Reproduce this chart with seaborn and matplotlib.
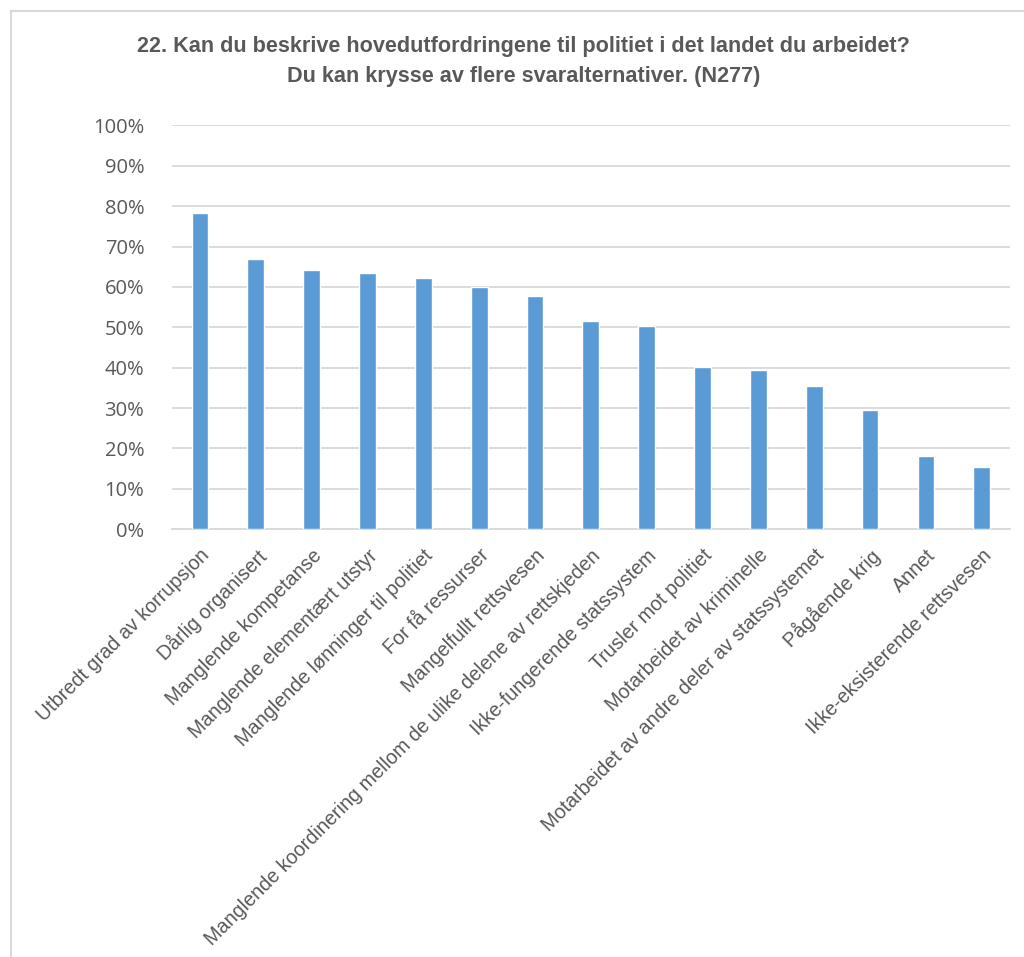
import matplotlib
matplotlib.use("Agg")
import matplotlib.pyplot as plt
from matplotlib.patches import Rectangle
from matplotlib.ticker import FuncFormatter, MultipleLocator
import seaborn as sns
import pandas as pd

title_lines = [
    "22. Kan du beskrive hovedutfordringene til politiet i det landet du arbeidet?",
    "Du kan krysse av flere svaralternativer. (N277)",
]

categories = [
    "Utbredt grad av korrupsjon",
    "Dårlig organisert",
    "Manglende kompetanse",
    "Manglende elementært utstyr",
    "Manglende lønninger til politiet",
    "For få ressurser",
    "Mangelfullt rettsvesen",
    "Manglende koordinering mellom de ulike delene av rettskjeden",
    "Ikke-fungerende statssystem",
    "Trusler mot politiet",
    "Motarbeidet av kriminelle",
    "Motarbeidet av andre deler av statssystemet",
    "Pågående krig",
    "Annet",
    "Ikke-eksisterende rettsvesen",
]

shares = [78.3, 66.8, 64.3, 63.5, 62.1, 59.9, 57.8, 51.6, 50.2, 40.1, 39.4, 35.4, 29.6, 18.1, 15.5]

df = pd.DataFrame({"kategori": categories, "andel": shares})

sns.set_theme(style="white")
TEXT = "#595959"
GRID = "#D9D9D9"
BAR = "#5B9BD5"

fig = plt.figure(figsize=(10.24, 9.57), dpi=100)
ax = fig.add_axes([0.168, 0.447, 0.818, 0.422])

sns.barplot(data=df, x="kategori", y="andel", color=BAR, width=0.3,
            saturation=1, ax=ax, zorder=3)

ax.set_ylim(0, 100)
ax.set_xlim(-0.5, len(categories) - 0.5)
ax.yaxis.set_major_locator(MultipleLocator(10))
ax.yaxis.set_major_formatter(FuncFormatter(lambda v, _: f"{v:.0f}%"))
ax.grid(axis="y", color=GRID, linewidth=1.3, zorder=0)
ax.grid(axis="x", visible=False)
for side in ["top", "right", "left"]:
    ax.spines[side].set_visible(False)
ax.spines["bottom"].set_color(GRID)
ax.spines["bottom"].set_linewidth(1.3)
ax.set_xlabel("")
ax.set_ylabel("")

ax.tick_params(axis="y", length=0, pad=20, labelsize=14.5, labelcolor=TEXT)
for lbl in ax.get_yticklabels():
    lbl.set_fontfamily(["Open Sans", "DejaVu Sans"])

ax.tick_params(axis="x", length=0, pad=12)
ax.set_xticks(range(len(categories)))
ax.set_xticklabels(categories, rotation=45, ha="right", va="top",
                   rotation_mode="anchor", fontsize=14.2, color=TEXT,
                   family=["Liberation Sans", "DejaVu Sans"])

title_font = dict(ha="center", va="center", fontsize=15.6, fontweight="bold",
                  color=TEXT,
                  family=["Liberation Sans Narrow", "Liberation Sans", "DejaVu Sans"])
fig.text(0.511, 0.951, title_lines[0], **title_font)
fig.text(0.511, 0.920, title_lines[1], **title_font)

# chart frame
fig.patches.append(Rectangle((11 / 1024, -0.05), 1.2, 1 - 11 / 957 + 0.05,
                             transform=fig.transFigure, fill=False,
                             edgecolor=GRID, linewidth=1.5, zorder=0))

fig.savefig("out.png", dpi=100)
